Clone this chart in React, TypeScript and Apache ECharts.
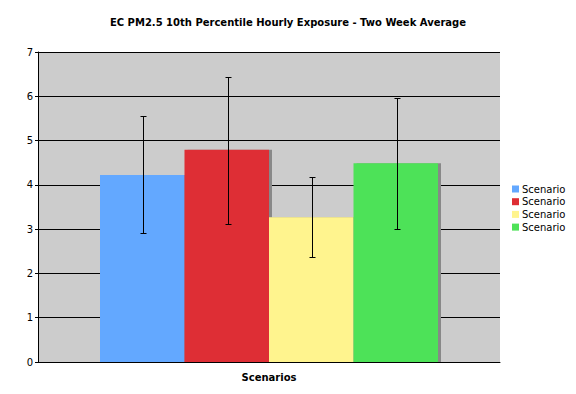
import React, { useEffect, useRef } from "react";
import * as echarts from "echarts";

const categories = ["Scenarios"];
const seriesNames = ["Scenario 1", "Scenario 2", "Scenario 3", "Scenario 4"];
const legendLabel = "Scenario";
const means = [4.22, 4.79, 3.27, 4.49];
const lows = [2.91, 3.11, 2.36, 3.0];
const highs = [5.55, 6.43, 4.17, 5.96];
const yTicks = [0, 1, 2, 3, 4, 5, 6, 7];
const colors = ["#63a8ff", "#de2d34", "#fff48e", "#4ee258"];

const BAR_W = 84.5;
const FONT = "'DejaVu Sans', Verdana, sans-serif";

export default function App() {
  const ref = useRef<HTMLDivElement>(null);
  useEffect(() => {
    if (!ref.current) return;
    const chart = echarts.init(ref.current, null, { renderer: "svg" });
    const barSeries = means.map((v, i) => ({
      type: "bar",
      name: seriesNames[i],
      data: [v],
      barWidth: BAR_W,
      barGap: "0%",
      itemStyle: {
        color: colors[i],
        shadowColor: "#888888",
        shadowOffsetX: 3,
        shadowOffsetY: 0,
        shadowBlur: 0,
      },
      z: 2,
    }));
    const errData = means.map((_, i) => [0, lows[i], highs[i], i]);
    const errSeries = {
      type: "custom",
      name: "err",
      data: errData,
      z: 5,
      silent: true,
      renderItem: (params: any, api: any) => {
        const c = api.value(0);
        const lo = api.value(1);
        const hi = api.value(2);
        const idx = api.value(3);
        const p1 = api.coord([c, hi]);
        const p2 = api.coord([c, lo]);
        const x = Math.round(p1[0] + (idx - 1.5) * BAR_W) + 1.5;
        const y1 = Math.round(p1[1]) + 0.5;
        const y2 = Math.round(p2[1]) + 0.5;
        const style = { stroke: "#000", lineWidth: 1 };
        return {
          type: "group",
          children: [
            { type: "line", shape: { x1: x, y1, x2: x, y2 }, style },
            { type: "line", shape: { x1: x - 3, y1, x2: x + 3, y2: y1 }, style },
            { type: "line", shape: { x1: x - 3, y1: y2, x2: x + 3, y2 }, style },
          ],
        };
      },
    };
    chart.setOption({
      animation: false,
      backgroundColor: "#ffffff",
      title: {
        text: "EC PM2.5 10th Percentile Hourly Exposure - Two Week Average",
        left: "center",
        top: 12,
        textStyle: { fontFamily: FONT, fontSize: 10, fontWeight: "bold", color: "#000" },
      },
      legend: {
        orient: "vertical",
        left: 507,
        top: 179,
        itemWidth: 7,
        itemHeight: 7,
        itemGap: 2.7,
        icon: "rect",
        data: seriesNames.map((n) => ({ name: n })),
        selectedMode: false,
        formatter: () => legendLabel,
        textStyle: { fontFamily: FONT, fontSize: 10, lineHeight: 10, color: "#000", padding: [0, 0, 0, -2] },
      },
      grid: { left: 38, right: 76, top: 52, bottom: 32, show: true, backgroundColor: "#cccccc", borderWidth: 0 },
      xAxis: {
        type: "category",
        data: categories,
        axisLine: { lineStyle: { color: "#000", width: 1 } },
        axisTick: { show: false },
        axisLabel: { fontFamily: FONT, fontSize: 10, fontWeight: "bold", color: "#000", margin: 10 },
      },
      yAxis: {
        type: "value",
        min: yTicks[0],
        max: yTicks[yTicks.length - 1],
        interval: 1,
        axisLine: { show: true, lineStyle: { color: "#000", width: 1 } },
        axisTick: { show: true, length: 3, lineStyle: { color: "#000" } },
        axisLabel: { fontFamily: FONT, fontSize: 10, color: "#000", margin: 5 },
        splitLine: { show: true, lineStyle: { color: "#000", width: 1 } },
      },
      series: [...barSeries, errSeries],
    });
    return () => chart.dispose();
  }, []);
  return <div ref={ref} style={{ width: 576, height: 394, position: "absolute", left: 0, top: 0 }} />;
}
